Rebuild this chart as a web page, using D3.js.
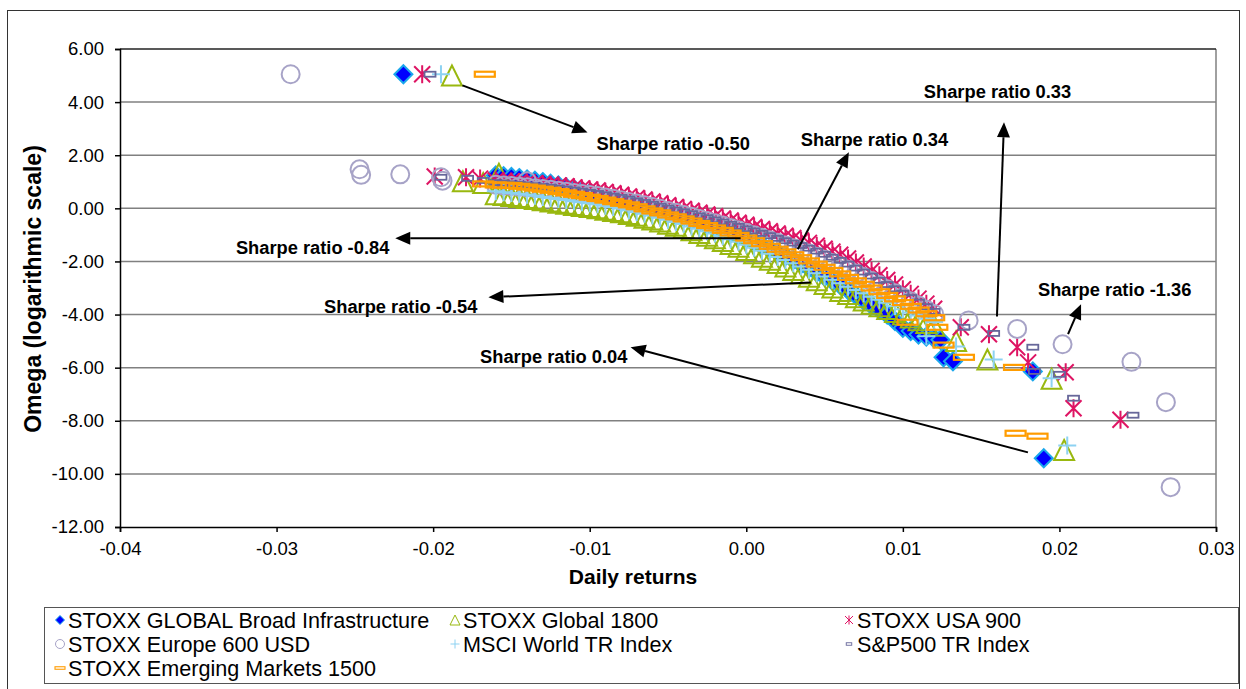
<!DOCTYPE html>
<html>
<head>
<meta charset="utf-8">
<script src="https://cdn.jsdelivr.net/npm/d3@7"></script>
<style>
  body { margin: 0; background: #fff; }
  svg { display: block; font-family: "Liberation Sans", Arial, sans-serif; }
</style>
</head>
<body>
<svg id="chart" width="1246" height="689"></svg>
<script>
// daily returns grid of the dense band
const bandReturns = [
  -0.016, -0.0155, -0.015, -0.0145, -0.014, -0.0135, -0.013, -0.0125, -0.012, -0.0115,
  -0.011, -0.0105, -0.010, -0.0095, -0.009, -0.0085, -0.008, -0.0075, -0.007, -0.0065,
  -0.006, -0.0055, -0.005, -0.0045, -0.004, -0.0035, -0.003, -0.0025, -0.002, -0.0015,
  -0.001, -0.0005, 0.000, 0.0005, 0.001, 0.0015, 0.002, 0.0025, 0.003, 0.0035,
  0.004, 0.0045, 0.005, 0.0055, 0.006, 0.0065, 0.007, 0.0075, 0.008, 0.0085,
  0.009, 0.0095, 0.010, 0.0105, 0.011, 0.0115, 0.012];

// omega (log) per series on the band grid, plus the scattered tail points
const infraBand = [
  1.24, 1.21, 1.18, 1.14, 1.09, 1.04, 0.99, 0.93, 0.86, 0.79,
  0.72, 0.65, 0.57, 0.49, 0.41, 0.32, 0.23, 0.17, 0.11, 0.05,
  -0.02, -0.10, -0.17, -0.25, -0.32, -0.42, -0.52, -0.60, -0.69, -0.81,
  -0.93, -1.02, -1.12, -1.25, -1.38, -1.51, -1.65, -1.80, -1.94, -2.10,
  -2.25, -2.41, -2.57, -2.73, -2.89, -3.08, -3.28, -3.47, -3.65, -3.82,
  -4.00, -4.25, -4.50, -4.62, -4.75, -4.83, -4.90];
const infraExtra = [[-0.0219, 5.05], [0.0124, -4.95], [0.0126, -5.61], [0.0132, -5.76], [0.0183, -6.14], [0.0190, -9.41]];

const global1800Band = [
  0.53, 0.50, 0.46, 0.43, 0.39, 0.35, 0.30, 0.26, 0.21, 0.17,
  0.13, 0.09, 0.05, 0.00, -0.05, -0.10, -0.15, -0.21, -0.28, -0.35,
  -0.42, -0.50, -0.58, -0.66, -0.74, -0.83, -0.93, -1.03, -1.13, -1.23,
  -1.34, -1.45, -1.57, -1.69, -1.82, -1.94, -2.06, -2.19, -2.32, -2.45,
  -2.58, -2.71, -2.85, -2.98, -3.11, -3.23, -3.35, -3.47, -3.59, -3.69,
  -3.79, -3.90, -4.00, -4.11, -4.21, -4.32, -4.42];
const global1800Extra = [[-0.0188, 5.0], [-0.0181, 1.02], [-0.0168, 0.95], [-0.0158, 1.30], [0.0134, -5.0],
  [0.0154, -5.69], [0.0195, -6.42], [0.0203, -9.10]];

const usa900Band = [
  1.05, 1.03, 1.01, 0.99, 0.97, 0.95, 0.92, 0.89, 0.86, 0.83,
  0.79, 0.75, 0.71, 0.67, 0.62, 0.57, 0.51, 0.45, 0.39, 0.33,
  0.26, 0.19, 0.12, 0.05, -0.02, -0.09, -0.16, -0.23, -0.30, -0.38,
  -0.46, -0.54, -0.62, -0.70, -0.78, -0.86, -0.95, -1.03, -1.12, -1.21,
  -1.30, -1.41, -1.52, -1.63, -1.75, -1.89, -2.04, -2.19, -2.35, -2.52,
  -2.70, -2.87, -3.05, -3.22, -3.40, -3.59, -3.78];
const usa900Extra = [[-0.0207, 5.05], [-0.0199, 1.20], [-0.0179, 1.17], [-0.0170, 1.12], [0.0137, -4.48],
  [0.0155, -4.74], [0.0173, -5.23], [0.0180, -5.80], [0.0204, -6.17], [0.0209, -7.53], [0.0239, -7.96]];

const europe600Band = [
  0.89, 0.86, 0.84, 0.81, 0.79, 0.76, 0.73, 0.70, 0.66, 0.62,
  0.58, 0.54, 0.50, 0.46, 0.41, 0.36, 0.30, 0.24, 0.18, 0.12,
  0.05, -0.02, -0.10, -0.17, -0.25, -0.32, -0.40, -0.48, -0.56, -0.65,
  -0.74, -0.83, -0.92, -1.01, -1.11, -1.20, -1.30, -1.40, -1.50, -1.60,
  -1.70, -1.82, -1.94, -2.06, -2.18, -2.31, -2.45, -2.59, -2.74, -2.89,
  -3.05, -3.20, -3.35, -3.50, -3.66, -3.82, -3.98];
const europe600Extra = [[-0.0291, 5.05], [-0.0247, 1.47], [-0.0246, 1.26], [-0.0221, 1.28], [-0.0195, 1.17],
  [-0.0194, 1.04], [-0.0140, 1.02], [0.0142, -4.22], [0.0173, -4.54], [0.0202, -5.12], [0.0246, -5.78],
  [0.0268, -7.30], [0.0271, -10.50]];

const msciBand = [
  0.64, 0.61, 0.58, 0.55, 0.51, 0.47, 0.43, 0.39, 0.35, 0.31,
  0.27, 0.23, 0.19, 0.15, 0.10, 0.05, -0.01, -0.07, -0.14, -0.20,
  -0.27, -0.35, -0.43, -0.51, -0.59, -0.68, -0.77, -0.86, -0.95, -1.05,
  -1.16, -1.26, -1.37, -1.48, -1.60, -1.71, -1.83, -1.95, -2.07, -2.19,
  -2.31, -2.44, -2.57, -2.69, -2.82, -2.95, -3.08, -3.20, -3.33, -3.44,
  -3.56, -3.68, -3.80, -3.92, -4.04, -4.16, -4.28];
const msciExtra = [[-0.0195, 5.05], [0.0115, -4.82], [0.0134, -5.20], [0.0158, -5.69], [0.0195, -6.40], [0.0205, -8.93]];

const sp500Band = [
  0.97, 0.95, 0.92, 0.90, 0.88, 0.85, 0.82, 0.79, 0.76, 0.73,
  0.69, 0.65, 0.60, 0.56, 0.51, 0.46, 0.41, 0.35, 0.28, 0.22,
  0.15, 0.08, 0.01, -0.06, -0.13, -0.20, -0.28, -0.35, -0.43, -0.51,
  -0.60, -0.68, -0.77, -0.85, -0.94, -1.03, -1.13, -1.22, -1.31, -1.40,
  -1.50, -1.61, -1.73, -1.84, -1.96, -2.10, -2.25, -2.40, -2.55, -2.71,
  -2.87, -3.03, -3.20, -3.36, -3.53, -3.70, -3.88];
const sp500Extra = [[-0.0202, 5.05], [-0.0195, 1.17], [-0.0178, 1.13], [-0.0168, 1.05], [0.0139, -4.48],
  [0.0158, -4.71], [0.0183, -5.23], [0.0184, -6.14], [0.0200, -6.25], [0.0209, -7.15], [0.0247, -7.79]];

const emBand = [
  0.88, 0.87, 0.86, 0.83, 0.80, 0.76, 0.72, 0.68, 0.63, 0.58,
  0.53, 0.48, 0.42, 0.37, 0.31, 0.25, 0.19, 0.13, 0.06, -0.02,
  -0.10, -0.17, -0.25, -0.32, -0.40, -0.48, -0.57, -0.65, -0.74, -0.83,
  -0.93, -1.02, -1.12, -1.22, -1.33, -1.43, -1.54, -1.64, -1.75, -1.86,
  -1.98, -2.10, -2.22, -2.34, -2.47, -2.60, -2.73, -2.86, -3.00, -3.14,
  -3.28, -3.41, -3.55, -3.69, -3.83, -3.97, -4.12];
const emExtra = [[-0.0167, 5.05], [-0.0168, 0.92], [0.0103, -4.29], [0.0122, -4.48], [0.0126, -5.15],
  [0.0139, -5.61], [0.0171, -5.99], [0.0172, -8.47], [0.0186, -8.58]];

const xTicks = [-0.04, -0.03, -0.02, -0.01, 0.00, 0.01, 0.02, 0.03];
const yTicks = [6, 4, 2, 0, -2, -4, -6, -8, -10, -12];

const annotations = [
  { label: 'Sharpe ratio -0.50', tx: -0.00957, ty: 2.45, anchor: 'start', from: [-0.01813, 4.63], to: [-0.01014, 2.86] },
  { label: 'Sharpe ratio 0.34', tx: 0.00348, ty: 2.60, anchor: 'start', from: [0.00329, -1.54], to: [0.00655, 2.11] },
  { label: 'Sharpe ratio 0.33', tx: 0.01134, ty: 4.41, anchor: 'start', from: [0.01601, -4.07], to: [0.01646, 3.24] },
  { label: 'Sharpe ratio -1.36', tx: 0.01863, ty: -3.05, anchor: 'start', from: [0.02055, -4.74], to: [0.02138, -3.61] },
  { label: 'Sharpe ratio -0.84', tx: -0.0228, ty: -1.47, anchor: 'end', from: [-0.00036, -1.13], to: [-0.02242, -1.13] },
  { label: 'Sharpe ratio -0.54', tx: -0.01717, ty: -3.69, anchor: 'end', from: [0.00412, -2.79], to: [-0.01647, -3.35] },
  { label: 'Sharpe ratio 0.04', tx: -0.00759, ty: -5.57, anchor: 'end', from: [0.01799, -9.19], to: [-0.00739, -5.23] }
];

const series = [
  { name: 'STOXX GLOBAL Broad Infrastructure', shape: 'diamond', band: infraBand, extra: infraExtra },
  { name: 'STOXX Global 1800', shape: 'triangle', band: global1800Band, extra: global1800Extra },
  { name: 'STOXX USA 900', shape: 'star', band: usa900Band, extra: usa900Extra },
  { name: 'STOXX Europe 600 USD', shape: 'circle', band: europe600Band, extra: europe600Extra },
  { name: 'MSCI World TR Index', shape: 'plus', band: msciBand, extra: msciExtra },
  { name: 'S&P500 TR Index', shape: 'smallbar', band: sp500Band, extra: sp500Extra },
  { name: 'STOXX Emerging Markets 1500', shape: 'bar', band: emBand, extra: emExtra }
];

const svg = d3.select('#chart');
const x = d3.scaleLinear().domain([-0.04, 0.03]).range([120, 1216]);
const y = d3.scaleLinear().domain([-12, 6]).range([527, 49]);

// chart border
svg.append('rect')
  .attr('x', 7.5).attr('y', 10.5).attr('width', 1232).attr('height', 700)
  .attr('fill', '#fff').attr('stroke', '#333').attr('stroke-width', 1);

// gridlines
svg.append('g')
  .selectAll('line')
  .data(yTicks.filter(v => v > -12 && v < 6))
  .enter()
  .append('line')
  .attr('x1', x(-0.04)).attr('x2', x(0.03))
  .attr('y1', d => y(d)).attr('y2', d => y(d))
  .attr('stroke', '#808080').attr('stroke-width', 1.5);

// plot frame
svg.append('line').attr('x1', x(0.03)).attr('x2', x(0.03)).attr('y1', y(6)).attr('y2', y(-12))
  .attr('stroke', '#808080').attr('stroke-width', 1.5);
svg.append('line').attr('x1', x(-0.04)).attr('x2', x(0.03)).attr('y1', y(6)).attr('y2', y(6))
  .attr('stroke', '#222').attr('stroke-width', 1.5);

// axes
const yAxis = svg.append('g')
  .attr('transform', `translate(${x(-0.04)},0)`)
  .call(d3.axisLeft(y).tickValues(yTicks).tickSize(5).tickPadding(11).tickFormat(d => d.toFixed(2)));
const xAxis = svg.append('g')
  .attr('transform', `translate(0,${y(-12)})`)
  .call(d3.axisBottom(x).tickValues(xTicks).tickSize(5).tickPadding(10).tickFormat(d => d.toFixed(2)));

[yAxis, xAxis].forEach(a => {
  a.select('.domain').attr('stroke', '#000').attr('stroke-width', 1.5);
  a.selectAll('.tick line').attr('stroke', '#000').attr('stroke-width', 1.5);
  a.selectAll('text')
    .style('font-family', '"Liberation Sans", Arial, sans-serif')
    .style('font-size', '18.5px')
    .attr('fill', '#000');
});

// axis titles
svg.append('text')
  .attr('x', 633).attr('y', 577).attr('dy', '0.35em')
  .attr('text-anchor', 'middle')
  .style('font-size', '21px').style('font-weight', 'bold')
  .text('Daily returns');

svg.append('text')
  .attr('transform', 'translate(33,289) rotate(-90)')
  .attr('dy', '0.35em')
  .attr('text-anchor', 'middle')
  .style('font-size', '23px').style('font-weight', 'bold')
  .text('Omega (logarithmic scale)');

// marker shapes, k scales them (legend uses smaller ones)
function addMarker(g, shape, k) {
  switch (shape) {
    case 'diamond':
      g.append('path')
        .attr('d', `M0,${-9 * k}L${9 * k},0L0,${9 * k}L${-9 * k},0Z`)
        .attr('fill', '#0000FF').attr('stroke', '#1AA7EC').attr('stroke-width', 2 * k);
      break;
    case 'triangle':
      g.append('path')
        .attr('d', `M0,${-10 * k}L${10 * k},${10 * k}L${-10 * k},${10 * k}Z`)
        .attr('fill', 'none').attr('stroke', '#99B80F').attr('stroke-width', 2 * k);
      break;
    case 'star':
      g.append('path')
        .attr('d', `M${-8 * k},${-8 * k}L${8 * k},${8 * k}M${-8 * k},${8 * k}L${8 * k},${-8 * k}M0,${-9 * k}L0,${9 * k}`)
        .attr('fill', 'none').attr('stroke', '#DE1463').attr('stroke-width', 2 * k);
      break;
    case 'circle':
      g.append('circle')
        .attr('r', 9 * k)
        .attr('fill', 'none').attr('stroke', '#A7A3C7').attr('stroke-width', 2 * k);
      break;
    case 'plus':
      g.append('path')
        .attr('d', `M${-9 * k},0L${9 * k},0M0,${-9 * k}L0,${9 * k}`)
        .attr('fill', 'none').attr('stroke', '#8DD2F2').attr('stroke-width', 2 * k);
      break;
    case 'smallbar':
      g.append('rect')
        .attr('x', -5.5 * k).attr('y', -2.5 * k).attr('width', 11 * k).attr('height', 5 * k)
        .attr('fill', 'none').attr('stroke', '#67679A').attr('stroke-width', 1.8 * k);
      break;
    case 'bar':
      g.append('rect')
        .attr('x', -10 * k).attr('y', -2.5 * k).attr('width', 20 * k).attr('height', 5 * k)
        .attr('fill', 'none').attr('stroke', '#FF9C00').attr('stroke-width', 2.2 * k);
      break;
  }
}

// points
const plot = svg.append('g');
series.forEach(s => {
  const pts = bandReturns.map((r, i) => [r, s.band[i]]).concat(s.extra);
  plot.append('g')
    .selectAll('g')
    .data(pts)
    .enter()
    .append('g')
    .attr('transform', d => `translate(${x(d[0])},${y(d[1])})`)
    .each(function() { addMarker(d3.select(this), s.shape, 1); });
});

// annotations with arrows
const ann = svg.append('g');
annotations.forEach(a => {
  const x1 = x(a.from[0]), y1 = y(a.from[1]);
  const x2 = x(a.to[0]), y2 = y(a.to[1]);
  const ang = Math.atan2(y2 - y1, x2 - x1);
  const len = 15, hw = 6.5;
  const bx = x2 - len * Math.cos(ang), by = y2 - len * Math.sin(ang);
  ann.append('line')
    .attr('x1', x1).attr('y1', y1).attr('x2', bx).attr('y2', by)
    .attr('stroke', '#000').attr('stroke-width', 2);
  ann.append('path')
    .attr('d', `M${x2},${y2}L${bx + hw * Math.sin(ang)},${by - hw * Math.cos(ang)}L${bx - hw * Math.sin(ang)},${by + hw * Math.cos(ang)}Z`)
    .attr('fill', '#000');
  ann.append('text')
    .attr('x', x(a.tx)).attr('y', y(a.ty)).attr('dy', '0.35em')
    .attr('text-anchor', a.anchor)
    .style('font-size', '18.3px').style('font-weight', 'bold')
    .text(a.label);
});

// legend
const legend = svg.append('g');
legend.append('rect')
  .attr('x', 44.5).attr('y', 607.5).attr('width', 1194).attr('height', 76)
  .attr('fill', '#fff').attr('stroke', '#555').attr('stroke-width', 1);
const legendCols = [68, 463, 857];
const legendRows = [620, 644, 668];
series.forEach((s, i) => {
  const cx = legendCols[i % 3], cy = legendRows[Math.floor(i / 3)];
  const m = legend.append('g').attr('transform', `translate(${cx - 8},${cy})`);
  addMarker(m, s.shape, 0.5);
  legend.append('text')
    .attr('x', cx).attr('y', cy).attr('dy', '0.35em')
    .style('font-size', '21.6px')
    .text(s.name);
});
</script>
</body>
</html>
